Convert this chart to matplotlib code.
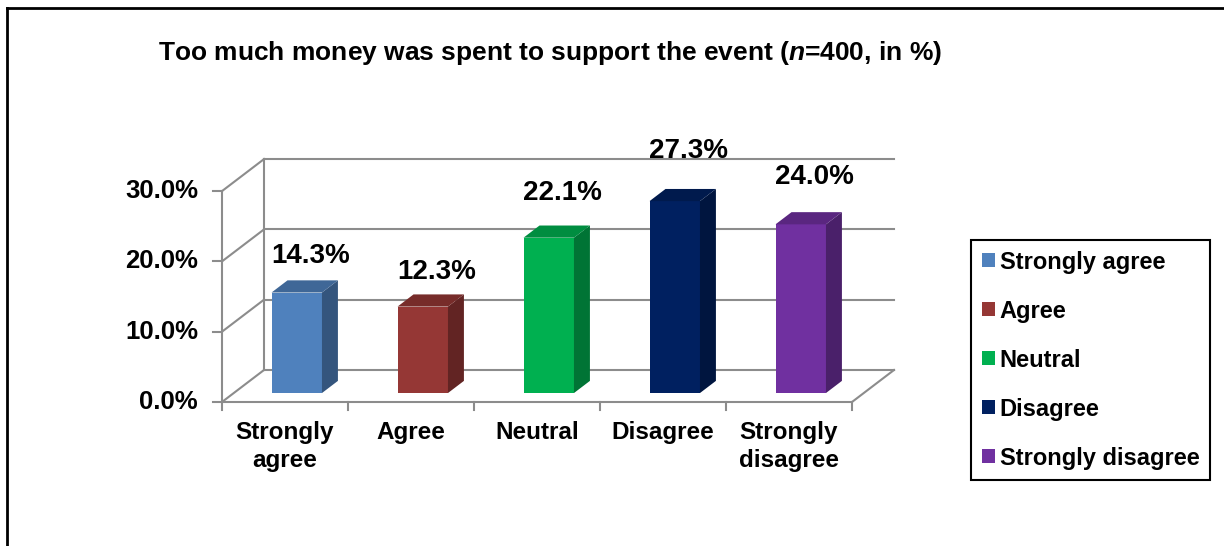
import numpy as np
import matplotlib
matplotlib.use("Agg")
import matplotlib.pyplot as plt
from matplotlib.patches import Polygon, Patch
from matplotlib.lines import Line2D

plt.rcParams['font.family'] = ['Liberation Sans', 'DejaVu Sans']
plt.rcParams['mathtext.fontset'] = 'custom'
plt.rcParams['mathtext.it'] = 'Liberation Sans:italic:bold'
plt.rcParams['mathtext.rm'] = 'Liberation Sans:bold'

# survey answers
categories = ['Strongly agree', 'Agree', 'Neutral', 'Disagree', 'Strongly disagree']
tick_names = ['Strongly\nagree', 'Agree', 'Neutral', 'Disagree', 'Strongly\ndisagree']
values = [14.3, 12.3, 22.1, 27.3, 24.0]
y_ticks = [0, 10, 20, 30]
front_colors = ['#4F81BD', '#953735', '#00B050', '#002060', '#7030A0']

title = 'Too much money was spent to support the event ($n$=400, in %)'


def shade(color, k):
    r, g, b = matplotlib.colors.to_rgb(color)
    return (r * k, g * k, b * k)


W, H = 1224, 546
fig = plt.figure(figsize=(W / 100, H / 100), dpi=100)
ax = fig.add_axes([0, 0, 1, 1])

# pixel scale of the plot box: one category = 126 px, one percent = 7.03 px
px_cat, px_pct = 126.0, 7.03
x0_px, y0_px = 222.0, 402.0
ax.set_xlim(-x0_px / px_cat, (W - x0_px) / px_cat)
ax.set_ylim(-(H - y0_px) / px_pct, y0_px / px_pct)
ax.axis('off')

n = len(categories)
DX, DY = 42 / px_cat, 32 / px_pct      # depth of the 3D box
f0, f1 = 0.28, 0.66                     # bar depth (front / back fraction)
grid_c = '#8C8C8C'
lw = 1.5
top = max(y_ticks)

# back wall gridlines and side wall diagonals
for v in y_ticks:
    ax.plot([DX, n + DX], [v + DY, v + DY], color=grid_c, lw=lw, zorder=1)
    ax.plot([0, DX], [v, v + DY], color=grid_c, lw=lw, zorder=1)
    ax.plot([-9 / px_cat, 0], [v, v], color=grid_c, lw=lw, zorder=1)
    ax.text(-24 / px_cat, v, f'{v:.1f}%', ha='right', va='center',
            fontsize=18.5, fontweight='bold')
ax.plot([DX, DX], [DY, top + DY], color=grid_c, lw=lw, zorder=1)
ax.plot([0, 0], [0, top], color=grid_c, lw=lw, zorder=1)

# floor
ax.plot([0, n], [0, 0], color=grid_c, lw=lw, zorder=1)
ax.plot([n, n + DX], [0, DY], color=grid_c, lw=lw, zorder=1)
for i in range(n + 1):
    ax.plot([i, i], [0, -8 / px_pct], color=grid_c, lw=lw, zorder=1)

# 3D bars
bw = 0.4
bx = np.arange(n) + 0.5 + f0 * DX
base = f0 * DY
ddx, ddy = (f1 - f0) * DX, (f1 - f0) * DY
ax.bar(bx, values, width=bw, bottom=base, color=front_colors, zorder=3)
for x, v, c in zip(bx, values, front_colors):
    xl, xr = x - bw / 2, x + bw / 2
    yt = base + v
    ax.add_patch(Polygon([(xr, base), (xr + ddx, base + ddy), (xr + ddx, yt + ddy), (xr, yt)],
                         closed=True, facecolor=shade(c, 0.66), edgecolor='none', zorder=3))
    ax.add_patch(Polygon([(xl, yt), (xl + ddx, yt + ddy), (xr + ddx, yt + ddy), (xr, yt)],
                         closed=True, facecolor=shade(c, 0.8), edgecolor='none', zorder=3))
    # value labels sit on a slightly stretched scale, as in the perspective view
    ax.text(x + ddx / 2 + 6 / px_cat, (v * 8.07 + 31) / px_pct, f'{v:.1f}%',
            ha='center', va='center', fontsize=20, fontweight='bold', zorder=4)

# category labels
for i, name in enumerate(tick_names):
    ax.text(i + 0.5, -19 / px_pct, name, ha='center', va='top', fontsize=17.5,
            fontweight='bold', linespacing=1.25)

fig.text(550 / W, 1 - 53 / H, title, ha='center', va='center',
         fontsize=19, fontweight='bold')

handles = [Patch(facecolor=c, edgecolor='none', label=l)
           for c, l in zip(front_colors, categories)]
leg = ax.legend(handles=handles, loc='upper left',
                bbox_to_anchor=(971 / W, 1 - 240 / H), bbox_transform=fig.transFigure,
                borderaxespad=0, fancybox=False, framealpha=1, edgecolor='black',
                prop={'weight': 'bold', 'size': 17}, handlelength=0.55,
                handleheight=0.55, handletextpad=0.22, borderpad=0.45,
                labelspacing=1.1)
leg.get_frame().set_linewidth(1.5)

# outer chart frame (top and left edges)
fig.add_artist(Line2D([7 / W, 1], [1 - 8 / H, 1 - 8 / H], color='black', lw=2,
                      transform=fig.transFigure))
fig.add_artist(Line2D([7 / W, 7 / W], [0, 1 - 8 / H], color='black', lw=2,
                      transform=fig.transFigure))

fig.savefig('out.png', dpi=100)
